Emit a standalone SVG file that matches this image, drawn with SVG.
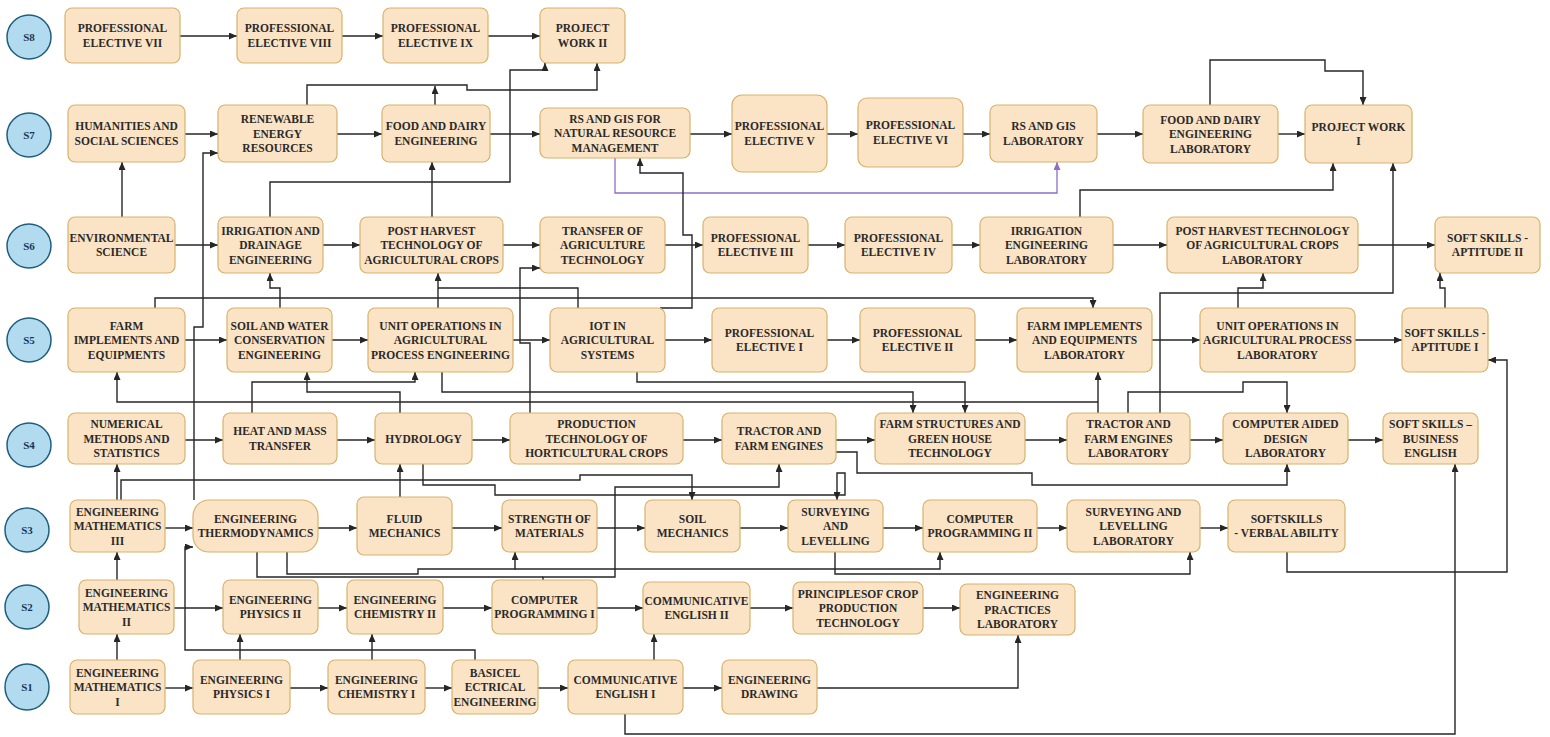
<svg xmlns="http://www.w3.org/2000/svg" width="1550" height="737" viewBox="0 0 1550 737">
<style>
.bg{fill:#ffffff}
.n{fill:#fbe3c6;stroke:#d8b26a;stroke-width:1.2}
.t{font-family:"Liberation Serif","Times New Roman",serif;font-weight:bold;font-size:11.5px;text-anchor:middle;fill:#2a2a2a}
.s{fill:#b3dbef;stroke:#1f5f7d;stroke-width:1.5}
.st{font-family:"Liberation Serif","Times New Roman",serif;font-weight:bold;font-size:11px;text-anchor:middle;fill:#1b3655}
.c{fill:none;stroke:#262626;stroke-width:1.4;marker-end:url(#ah)}
.c0{fill:none;stroke:#262626;stroke-width:1.4}
.p{fill:none;stroke:#8d6fc4;stroke-width:1.3;marker-end:url(#ahp)}
</style>
<defs>
<marker id="ah" markerUnits="userSpaceOnUse" markerWidth="8" markerHeight="7" refX="8" refY="3.5" orient="auto"><path d="M0,0 L8,3.5 L0,7 z" fill="#262626"/></marker>
<marker id="ahp" markerUnits="userSpaceOnUse" markerWidth="8" markerHeight="7" refX="8" refY="3.5" orient="auto"><path d="M0,0 L8,3.5 L0,7 z" fill="#8d6fc4"/></marker>
</defs>
<rect class="bg" x="0" y="0" width="1550" height="737"/>

<g id="semesters">
<g id="s8"><ellipse class="s" cx="29" cy="37" rx="22" ry="22"/><text class="st" x="29" y="41">S8</text></g>
<g id="s7"><ellipse class="s" cx="29" cy="135" rx="22" ry="22"/><text class="st" x="29" y="139">S7</text></g>
<g id="s6"><ellipse class="s" cx="29" cy="246" rx="22" ry="22"/><text class="st" x="29" y="250">S6</text></g>
<g id="s5"><ellipse class="s" cx="29" cy="340" rx="22" ry="22"/><text class="st" x="29" y="344">S5</text></g>
<g id="s4"><ellipse class="s" cx="29" cy="445" rx="22" ry="22"/><text class="st" x="29" y="449">S4</text></g>
<g id="s3"><ellipse class="s" cx="27" cy="530" rx="22" ry="22"/><text class="st" x="27" y="534">S3</text></g>
<g id="s2"><ellipse class="s" cx="27" cy="607" rx="22" ry="22"/><text class="st" x="27" y="611">S2</text></g>
<g id="s1"><ellipse class="s" cx="27" cy="687" rx="22" ry="23"/><text class="st" x="27" y="691">S1</text></g>
</g>

<g id="connectors">
<!-- S8 row -->
<path class="c" d="M180,36 H237"/>
<path class="c" d="M342,36 H383"/>
<path class="c" d="M488,36 H540"/>
<!-- S7 row -->
<path class="c" d="M185,134 H218"/>
<path class="c" d="M337,134 H382"/>
<path class="c" d="M490,134 H540"/>
<path class="c" d="M690,134 H732"/>
<path class="c" d="M827,134 H858"/>
<path class="c" d="M963,134 H990"/>
<path class="c" d="M1097,134 H1143"/>
<path class="c" d="M1278,134 H1305"/>
<!-- S6 row -->
<path class="c" d="M175,245 H218"/>
<path class="c" d="M323,245 H360"/>
<path class="c" d="M503,245 H540"/>
<path class="c" d="M665,245 H703"/>
<path class="c" d="M808,245 H845"/>
<path class="c" d="M952,245 H980"/>
<path class="c" d="M1113,245 H1167"/>
<path class="c" d="M1358,245 H1435"/>
<!-- S5 row -->
<path class="c" d="M185,340 H227"/>
<path class="c" d="M332,340 H368"/>
<path class="c" d="M513,340 H550"/>
<path class="c" d="M665,340 H712"/>
<path class="c" d="M827,340 H860"/>
<path class="c" d="M975,340 H1017"/>
<path class="c" d="M1152,340 H1200"/>
<path class="c" d="M1355,340 H1402"/>
<!-- S4 row -->
<path class="c" d="M185,440 H223"/>
<path class="c" d="M337,440 H375"/>
<path class="c" d="M472,440 H510"/>
<path class="c" d="M683,440 H722"/>
<path class="c" d="M836,440 H875"/>
<path class="c" d="M1025,440 H1067"/>
<path class="c" d="M1190,440 H1223"/>
<path class="c" d="M1348,440 H1383"/>
<!-- S3 row -->
<path class="c" d="M165,528 H193"/>
<path class="c" d="M318,528 H357"/>
<path class="c" d="M452,528 H502"/>
<path class="c" d="M597,528 H645"/>
<path class="c" d="M740,528 H788"/>
<path class="c" d="M883,528 H923"/>
<path class="c" d="M1037,528 H1067"/>
<path class="c" d="M1200,528 H1228"/>
<!-- S2 row -->
<path class="c" d="M174,608 H223"/>
<path class="c" d="M318,608 H347"/>
<path class="c" d="M443,608 H492"/>
<path class="c" d="M597,608 H643"/>
<path class="c" d="M750,608 H793"/>
<path class="c" d="M923,608 H960"/>
<!-- S1 row -->
<path class="c" d="M165,688 H193"/>
<path class="c" d="M290,688 H328"/>
<path class="c" d="M425,688 H452"/>
<path class="c" d="M538,688 H568"/>
<path class="c" d="M683,688 H722"/>
<!-- cross-row -->
<path class="c" d="M270,217 V182 H510 V70 H545 V63"/>
<path class="c" d="M307,105 V85 H467 V90 H597 V63"/>
<path class="c" d="M435,105 V86"/>
<path class="c" d="M1210,105 V60 H1325 V71 H1363 V105"/>
<path class="c" d="M122,217 V162"/>
<path class="c" d="M194,500 V327 H203 V153 H218"/>
<path class="c" d="M432,217 V162"/>
<path class="p" d="M615,158 V193 H1057 V162"/>
<path class="c" d="M660,308 H692 V235 H683 V173 H640 V158"/>
<path class="c" d="M1080,217 V190 H1333 V163"/>
<path class="c" d="M1160,413 V293 H1393 V163"/>
<path class="c" d="M530,413 V343 H520 V268 H540"/>
<path class="c" d="M280,308 V288 H270 V273"/>
<path class="c" d="M155,308 V298 H1093 V308"/>
<path class="c" d="M438,308 V273"/>
<path class="c0" d="M578,308 V288 H438"/>
<path class="c" d="M1445,308 V288 H1440 V273"/>
<path class="c" d="M1238,308 V288 H1263 V273"/>
<path class="c" d="M1287,552 V572 H1507 V360 H1488"/>
<path class="c" d="M625,714 V734 H1455 V464"/>
<path class="c" d="M252,413 V382 H415 V372"/>
<path class="c" d="M400,413 V392 H307 V372"/>
<path class="c" d="M1098,402 H117 V372"/>
<path class="c" d="M1098,413 V372"/>
<path class="c" d="M442,372 V392 H913 V413"/>
<path class="c" d="M637,372 V382 H965 V413"/>
<path class="c" d="M1128,413 V392 H1243 V382 H1287 V413"/>
<path class="c" d="M836,452 H857 V473 H1032 V485 H1287 V464"/>
<path class="c" d="M543,580 V577 H615 V487 H779 V464"/>
<path class="c0" d="M257,552 V577 H543"/>
<path class="c" d="M287,552 V574 H418 V569 H515 V552"/>
<path class="c" d="M515,569 H940 V552"/>
<path class="c" d="M835,552 V574 H1190 V552"/>
<path class="c" d="M117,500 V464"/>
<path class="c" d="M121,500 V480 H580 V475 H692 V500"/>
<path class="c" d="M400,497 V464"/>
<path class="c" d="M423,464 V485 H495 V495 H845 V473 H837 V500"/>
<path class="c" d="M117,580 V552"/>
<path class="c" d="M117,660 V634"/>
<path class="c" d="M240,660 V634"/>
<path class="c" d="M372,660 V634"/>
<path class="c" d="M475,660 V650 H185 V547 H193"/>
<path class="c" d="M654,660 V634"/>
<path class="c" d="M817,688 H1018 V635"/>
</g>

<!-- S8 -->
<g id="pe7"><rect class="n" x="65" y="8" width="115" height="55" rx="7"/><text class="t" x="122.5" y="32.3">PROFESSIONAL<tspan x="122.5" dy="14.5">ELECTIVE VII</tspan></text></g>
<g id="pe8"><rect class="n" x="237" y="8" width="105" height="55" rx="7"/><text class="t" x="289.5" y="32.3">PROFESSIONAL<tspan x="289.5" dy="14.5">ELECTIVE VIII</tspan></text></g>
<g id="pe9"><rect class="n" x="383" y="8" width="105" height="55" rx="7"/><text class="t" x="435.5" y="32.3">PROFESSIONAL<tspan x="435.5" dy="14.5">ELECTIVE IX</tspan></text></g>
<g id="pw2"><rect class="n" x="540" y="8" width="85" height="55" rx="7"/><text class="t" x="582.5" y="32.3">PROJECT<tspan x="582.5" dy="14.5">WORK II</tspan></text></g>

<!-- S7 -->
<g id="hum"><rect class="n" x="68" y="105" width="117" height="57" rx="7"/><text class="t" x="126.5" y="130.3">HUMANITIES AND<tspan x="126.5" dy="14.5">SOCIAL SCIENCES</tspan></text></g>
<g id="ren"><rect class="n" x="218" y="105" width="119" height="57" rx="7"/><text class="t" x="277.5" y="123">RENEWABLE<tspan x="277.5" dy="14.5">ENERGY</tspan><tspan x="277.5" dy="14.5">RESOURCES</tspan></text></g>
<g id="fde"><rect class="n" x="382" y="105" width="108" height="57" rx="7"/><text class="t" x="436" y="130.3">FOOD AND DAIRY<tspan x="436" dy="14.5">ENGINEERING</tspan></text></g>
<g id="rsgis"><rect class="n" x="540" y="108" width="150" height="50" rx="7"/><text class="t" x="615" y="122.5">RS AND GIS FOR<tspan x="615" dy="14.5">NATURAL RESOURCE</tspan><tspan x="615" dy="14.5">MANAGEMENT</tspan></text></g>
<g id="pe5"><rect class="n" x="732" y="95" width="95" height="77" rx="10"/><text class="t" x="779.5" y="130.3">PROFESSIONAL<tspan x="779.5" dy="14.5">ELECTIVE V</tspan></text></g>
<g id="pe6"><rect class="n" x="858" y="98" width="105" height="69" rx="9"/><text class="t" x="910.5" y="129.3">PROFESSIONAL<tspan x="910.5" dy="14.5">ELECTIVE VI</tspan></text></g>
<g id="rslab"><rect class="n" x="990" y="105" width="107" height="57" rx="7"/><text class="t" x="1043.5" y="130.3">RS AND GIS<tspan x="1043.5" dy="14.5">LABORATORY</tspan></text></g>
<g id="fdlab"><rect class="n" x="1143" y="105" width="135" height="58" rx="7"/><text class="t" x="1210.5" y="123.5">FOOD AND DAIRY<tspan x="1210.5" dy="14.5">ENGINEERING</tspan><tspan x="1210.5" dy="14.5">LABORATORY</tspan></text></g>
<g id="pw1"><rect class="n" x="1305" y="105" width="107" height="58" rx="7"/><text class="t" x="1358.5" y="130.8">PROJECT WORK<tspan x="1358.5" dy="14.5">I</tspan></text></g>

<!-- S6 -->
<g id="env"><rect class="n" x="68" y="217" width="107" height="56" rx="7"/><text class="t" x="121.5" y="241.8">ENVIRONMENTAL<tspan x="121.5" dy="14.5">SCIENCE</tspan></text></g>
<g id="ird"><rect class="n" x="218" y="217" width="105" height="56" rx="7"/><text class="t" x="270.5" y="234.5">IRRIGATION AND<tspan x="270.5" dy="14.5">DRAINAGE</tspan><tspan x="270.5" dy="14.5">ENGINEERING</tspan></text></g>
<g id="ph"><rect class="n" x="360" y="217" width="143" height="56" rx="7"/><text class="t" x="431.5" y="234.5">POST HARVEST<tspan x="431.5" dy="14.5">TECHNOLOGY OF</tspan><tspan x="431.5" dy="14.5">AGRICULTURAL CROPS</tspan></text></g>
<g id="tat"><rect class="n" x="540" y="217" width="125" height="56" rx="7"/><text class="t" x="602.5" y="234.5">TRANSFER OF<tspan x="602.5" dy="14.5">AGRICULTURE</tspan><tspan x="602.5" dy="14.5">TECHNOLOGY</tspan></text></g>
<g id="pe3"><rect class="n" x="703" y="217" width="105" height="56" rx="7"/><text class="t" x="755.5" y="241.8">PROFESSIONAL<tspan x="755.5" dy="14.5">ELECTIVE III</tspan></text></g>
<g id="pe4"><rect class="n" x="845" y="217" width="107" height="56" rx="7"/><text class="t" x="898.5" y="241.8">PROFESSIONAL<tspan x="898.5" dy="14.5">ELECTIVE IV</tspan></text></g>
<g id="iel"><rect class="n" x="980" y="217" width="133" height="56" rx="7"/><text class="t" x="1046.5" y="234.5">IRRIGATION<tspan x="1046.5" dy="14.5">ENGINEERING</tspan><tspan x="1046.5" dy="14.5">LABORATORY</tspan></text></g>
<g id="phl"><rect class="n" x="1167" y="217" width="191" height="56" rx="7"/><text class="t" x="1262.5" y="234.5">POST HARVEST TECHNOLOGY<tspan x="1262.5" dy="14.5">OF AGRICULTURAL CROPS</tspan><tspan x="1262.5" dy="14.5">LABORATORY</tspan></text></g>
<g id="ss2"><rect class="n" x="1435" y="217" width="105" height="56" rx="7"/><text class="t" x="1487.5" y="241.8">SOFT SKILLS -<tspan x="1487.5" dy="14.5">APTITUDE II</tspan></text></g>

<!-- S5 -->
<g id="farm"><rect class="n" x="68" y="308" width="117" height="64" rx="7"/><text class="t" x="126.5" y="329.5">FARM<tspan x="126.5" dy="14.5">IMPLEMENTS AND</tspan><tspan x="126.5" dy="14.5">EQUIPMENTS</tspan></text></g>
<g id="swc"><rect class="n" x="227" y="308" width="105" height="64" rx="7"/><text class="t" x="279.5" y="329.5">SOIL AND WATER<tspan x="279.5" dy="14.5">CONSERVATION</tspan><tspan x="279.5" dy="14.5">ENGINEERING</tspan></text></g>
<g id="uop"><rect class="n" x="368" y="308" width="145" height="64" rx="7"/><text class="t" x="440.5" y="329.5">UNIT OPERATIONS IN<tspan x="440.5" dy="14.5">AGRICULTURAL</tspan><tspan x="440.5" dy="14.5">PROCESS ENGINEERING</tspan></text></g>
<g id="iot"><rect class="n" x="550" y="308" width="115" height="64" rx="7"/><text class="t" x="607.5" y="329.5">IOT IN<tspan x="607.5" dy="14.5">AGRICULTURAL</tspan><tspan x="607.5" dy="14.5">SYSTEMS</tspan></text></g>
<g id="pe1"><rect class="n" x="712" y="308" width="115" height="64" rx="7"/><text class="t" x="769.5" y="336.8">PROFESSIONAL<tspan x="769.5" dy="14.5">ELECTIVE I</tspan></text></g>
<g id="pe2"><rect class="n" x="860" y="308" width="115" height="64" rx="7"/><text class="t" x="917.5" y="336.8">PROFESSIONAL<tspan x="917.5" dy="14.5">ELECTIVE II</tspan></text></g>
<g id="fel"><rect class="n" x="1017" y="308" width="135" height="64" rx="7"/><text class="t" x="1084.5" y="329.5">FARM IMPLEMENTS<tspan x="1084.5" dy="14.5">AND EQUIPMENTS</tspan><tspan x="1084.5" dy="14.5">LABORATORY</tspan></text></g>
<g id="uol"><rect class="n" x="1200" y="308" width="155" height="64" rx="7"/><text class="t" x="1277.5" y="329.5">UNIT OPERATIONS IN<tspan x="1277.5" dy="14.5">AGRICULTURAL PROCESS</tspan><tspan x="1277.5" dy="14.5">LABORATORY</tspan></text></g>
<g id="ss1"><rect class="n" x="1402" y="308" width="86" height="64" rx="7"/><text class="t" x="1445" y="336.8">SOFT SKILLS -<tspan x="1445" dy="14.5">APTITUDE I</tspan></text></g>

<!-- S4 -->
<g id="num"><rect class="n" x="68" y="413" width="117" height="51" rx="7"/><text class="t" x="126.5" y="428">NUMERICAL<tspan x="126.5" dy="14.5">METHODS AND</tspan><tspan x="126.5" dy="14.5">STATISTICS</tspan></text></g>
<g id="hmt"><rect class="n" x="223" y="413" width="114" height="51" rx="7"/><text class="t" x="280" y="435.3">HEAT AND MASS<tspan x="280" dy="14.5">TRANSFER</tspan></text></g>
<g id="hyd"><rect class="n" x="375" y="413" width="97" height="51" rx="7"/><text class="t" x="423.5" y="442.5">HYDROLOGY</text></g>
<g id="ptc"><rect class="n" x="510" y="413" width="173" height="51" rx="7"/><text class="t" x="596.5" y="428">PRODUCTION<tspan x="596.5" dy="14.5">TECHNOLOGY OF</tspan><tspan x="596.5" dy="14.5">HORTICULTURAL CROPS</tspan></text></g>
<g id="tfe"><rect class="n" x="722" y="413" width="114" height="51" rx="7"/><text class="t" x="779" y="435.3">TRACTOR AND<tspan x="779" dy="14.5">FARM ENGINES</tspan></text></g>
<g id="fsg"><rect class="n" x="875" y="413" width="150" height="51" rx="7"/><text class="t" x="950" y="428">FARM STRUCTURES AND<tspan x="950" dy="14.5">GREEN HOUSE</tspan><tspan x="950" dy="14.5">TECHNOLOGY</tspan></text></g>
<g id="tfl"><rect class="n" x="1067" y="413" width="123" height="51" rx="7"/><text class="t" x="1128.5" y="428">TRACTOR AND<tspan x="1128.5" dy="14.5">FARM ENGINES</tspan><tspan x="1128.5" dy="14.5">LABORATORY</tspan></text></g>
<g id="cad"><rect class="n" x="1223" y="413" width="125" height="51" rx="7"/><text class="t" x="1285.5" y="428">COMPUTER AIDED<tspan x="1285.5" dy="14.5">DESIGN</tspan><tspan x="1285.5" dy="14.5">LABORATORY</tspan></text></g>
<g id="sbe"><rect class="n" x="1383" y="413" width="95" height="51" rx="7"/><text class="t" x="1430.5" y="428">SOFT SKILLS –<tspan x="1430.5" dy="14.5">BUSINESS</tspan><tspan x="1430.5" dy="14.5">ENGLISH</tspan></text></g>

<!-- S3 -->
<g id="em3"><rect class="n" x="70" y="500" width="95" height="52" rx="7"/><text class="t" x="117.5" y="515.5">ENGINEERING<tspan x="117.5" dy="14.5">MATHEMATICS</tspan><tspan x="117.5" dy="14.5">III</tspan></text></g>
<g id="et"><rect class="n" x="193" y="500" width="125" height="52" rx="16"/><text class="t" x="255.5" y="522.8">ENGINEERING<tspan x="255.5" dy="14.5">THERMODYNAMICS</tspan></text></g>
<g id="fm"><rect class="n" x="357" y="497" width="95" height="58" rx="7"/><text class="t" x="404.5" y="522.8">FLUID<tspan x="404.5" dy="14.5">MECHANICS</tspan></text></g>
<g id="som"><rect class="n" x="502" y="500" width="95" height="52" rx="7"/><text class="t" x="549.5" y="522.8">STRENGTH OF<tspan x="549.5" dy="14.5">MATERIALS</tspan></text></g>
<g id="sm"><rect class="n" x="645" y="500" width="95" height="52" rx="7"/><text class="t" x="692.5" y="522.8">SOIL<tspan x="692.5" dy="14.5">MECHANICS</tspan></text></g>
<g id="sl"><rect class="n" x="788" y="500" width="95" height="52" rx="7"/><text class="t" x="835.5" y="515.5">SURVEYING<tspan x="835.5" dy="14.5">AND</tspan><tspan x="835.5" dy="14.5">LEVELLING</tspan></text></g>
<g id="cp2"><rect class="n" x="923" y="500" width="114" height="52" rx="7"/><text class="t" x="980" y="522.8">COMPUTER<tspan x="980" dy="14.5">PROGRAMMING II</tspan></text></g>
<g id="sll"><rect class="n" x="1067" y="500" width="133" height="52" rx="7"/><text class="t" x="1133.5" y="515.5">SURVEYING AND<tspan x="1133.5" dy="14.5">LEVELLING</tspan><tspan x="1133.5" dy="14.5">LABORATORY</tspan></text></g>
<g id="ssv"><rect class="n" x="1228" y="500" width="117" height="52" rx="7"/><text class="t" x="1286.5" y="522.8">SOFTSKILLS<tspan x="1286.5" dy="14.5">- VERBAL ABILITY</tspan></text></g>

<!-- S2 -->
<g id="em2"><rect class="n" x="79" y="580" width="95" height="54" rx="7"/><text class="t" x="126.5" y="596.5">ENGINEERING<tspan x="126.5" dy="14.5">MATHEMATICS</tspan><tspan x="126.5" dy="14.5">II</tspan></text></g>
<g id="ep2"><rect class="n" x="223" y="580" width="95" height="54" rx="7"/><text class="t" x="270.5" y="603.8">ENGINEERING<tspan x="270.5" dy="14.5">PHYSICS II</tspan></text></g>
<g id="ec2"><rect class="n" x="347" y="580" width="96" height="54" rx="7"/><text class="t" x="395" y="603.8">ENGINEERING<tspan x="395" dy="14.5">CHEMISTRY II</tspan></text></g>
<g id="cp1"><rect class="n" x="492" y="580" width="105" height="54" rx="7"/><text class="t" x="544.5" y="603.8">COMPUTER<tspan x="544.5" dy="14.5">PROGRAMMING I</tspan></text></g>
<g id="ce2"><rect class="n" x="643" y="582" width="107" height="52" rx="7"/><text class="t" x="696.5" y="604.8">COMMUNICATIVE<tspan x="696.5" dy="14.5">ENGLISH II</tspan></text></g>
<g id="pcp"><rect class="n" x="793" y="582" width="130" height="52" rx="7"/><text class="t" x="858" y="597.5">PRINCIPLESOF CROP<tspan x="858" dy="14.5">PRODUCTION</tspan><tspan x="858" dy="14.5">TECHNOLOGY</tspan></text></g>
<g id="epl"><rect class="n" x="960" y="584" width="115" height="51" rx="7"/><text class="t" x="1017.5" y="599">ENGINEERING<tspan x="1017.5" dy="14.5">PRACTICES</tspan><tspan x="1017.5" dy="14.5">LABORATORY</tspan></text></g>

<!-- S1 -->
<g id="em1"><rect class="n" x="70" y="660" width="95" height="54" rx="7"/><text class="t" x="117.5" y="676.5">ENGINEERING<tspan x="117.5" dy="14.5">MATHEMATICS</tspan><tspan x="117.5" dy="14.5">I</tspan></text></g>
<g id="ep1"><rect class="n" x="193" y="660" width="97" height="54" rx="7"/><text class="t" x="241.5" y="683.8">ENGINEERING<tspan x="241.5" dy="14.5">PHYSICS I</tspan></text></g>
<g id="ec1"><rect class="n" x="328" y="660" width="97" height="54" rx="7"/><text class="t" x="376.5" y="683.8">ENGINEERING<tspan x="376.5" dy="14.5">CHEMISTRY  I</tspan></text></g>
<g id="bee"><rect class="n" x="452" y="660" width="86" height="54" rx="7"/><text class="t" x="495" y="676.5">BASICEL<tspan x="495" dy="14.5">ECTRICAL</tspan><tspan x="495" dy="14.5">ENGINEERING</tspan></text></g>
<g id="ce1"><rect class="n" x="568" y="660" width="115" height="54" rx="7"/><text class="t" x="625.5" y="683.8">COMMUNICATIVE<tspan x="625.5" dy="14.5">ENGLISH I</tspan></text></g>
<g id="ed"><rect class="n" x="722" y="660" width="95" height="54" rx="7"/><text class="t" x="769.5" y="683.8">ENGINEERING<tspan x="769.5" dy="14.5">DRAWING</tspan></text></g>
</svg>
